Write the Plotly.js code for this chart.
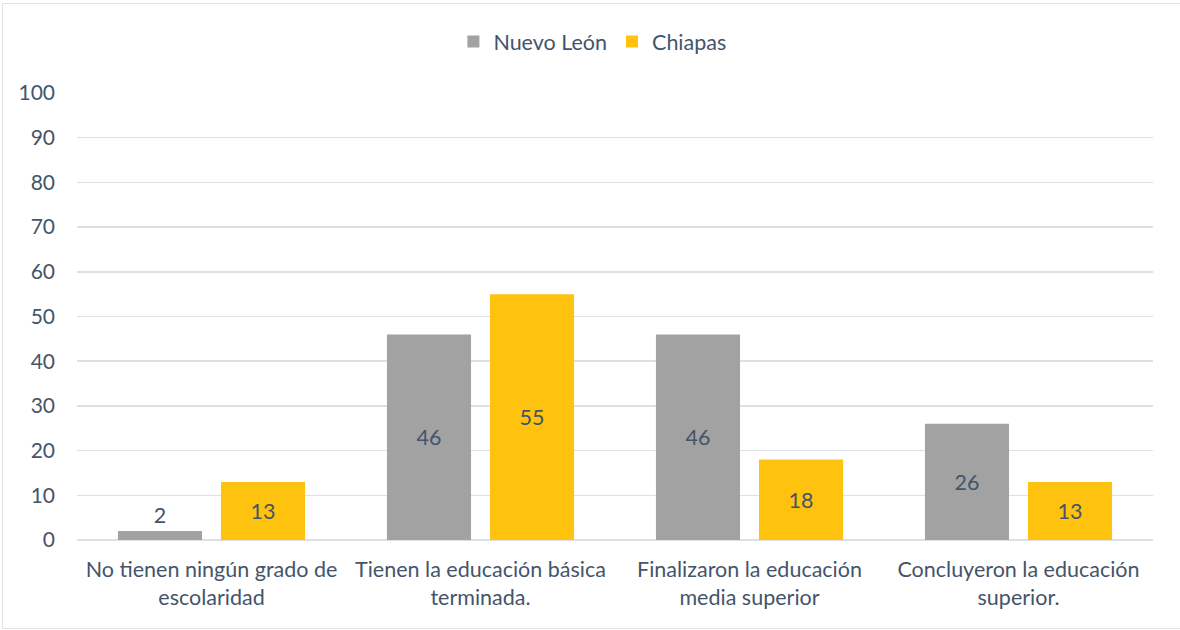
<!DOCTYPE html>
<html>
<head>
<meta charset="utf-8">
<script src="https://cdn.plot.ly/plotly-3.0.1.min.js"></script>
<style>
  body { margin: 0; background: #fff; }
  #chart { position: absolute; left: 0; top: 0; width: 1180px; height: 630px; }
  #frame { position: absolute; left: 2px; top: 3px; width: 1190px; height: 624px; border: 1px solid #E3E3E3; pointer-events: none; }
</style>
</head>
<body>
<div id="chart"></div>
<div id="frame"></div>
<script>
const categories = [
  "No tienen ningún grado de<br>escolaridad",
  "Tienen la educación básica<br>terminada.",
  "Finalizaron la educación<br>media superior",
  "Concluyeron la educación<br>superior."
];
const nuevoLeon = [2, 46, 46, 26];
const chiapas = [13, 55, 18, 13];
const yTicks = [0, 10, 20, 30, 40, 50, 60, 70, 80, 90, 100];

const textColor = "#44546A";
const fontFam = "Lato, 'Open Sans', sans-serif";

const traces = [
  {
    type: "bar", name: "Nuevo León", x: categories, y: nuevoLeon,
    marker: { color: "#A2A2A2" },
    text: nuevoLeon.map(String), textposition: "auto", insidetextanchor: "middle",
    textfont: { color: textColor, size: 21.5, family: fontFam },
    cliponaxis: false, hoverinfo: "skip"
  },
  {
    type: "bar", name: "Chiapas", x: categories, y: chiapas,
    marker: { color: "#FFC20E" },
    text: chiapas.map(String), textposition: "auto", insidetextanchor: "middle",
    textfont: { color: textColor, size: 21.5, family: fontFam },
    cliponaxis: false, hoverinfo: "skip"
  }
];

const layout = {
  width: 1180, height: 630,
  margin: { l: 77, r: 27, t: 93, b: 90 },
  paper_bgcolor: "#fff", plot_bgcolor: "#fff",
  font: { family: fontFam, color: textColor, size: 20 },
  barmode: "group", bargap: 0.234, bargroupgap: 0.184,
  showlegend: true,
  legend: {
    orientation: "h", x: 0.479, xanchor: "center", xref: "paper",
    y: 1.115, yanchor: "middle",
    font: { size: 21.5, color: textColor, family: fontFam },
    itemwidth: 30, tracegroupgap: 0
  },
  xaxis: {
    type: "category", showgrid: false, showline: true, linecolor: "#DDE1E6", linewidth: 1,
    ticks: "", tickfont: { size: 21.5, color: textColor, family: fontFam },
    ticklabelstandoff: 10, fixedrange: true
  },
  yaxis: {
    range: [0, 100], tickvals: yTicks, ticktext: yTicks.map(String),
    showgrid: true, gridcolor: "#DDE1E6", gridwidth: 1.5,
    zeroline: true, zerolinecolor: "#DDE1E6", zerolinewidth: 1.5,
    showline: false, ticks: "", ticklabelstandoff: 21,
    tickfont: { size: 21, color: textColor, family: fontFam }, fixedrange: true
  }
};

Plotly.newPlot("chart", traces, layout, { displayModeBar: false, staticPlot: true });
</script>
</body>
</html>
